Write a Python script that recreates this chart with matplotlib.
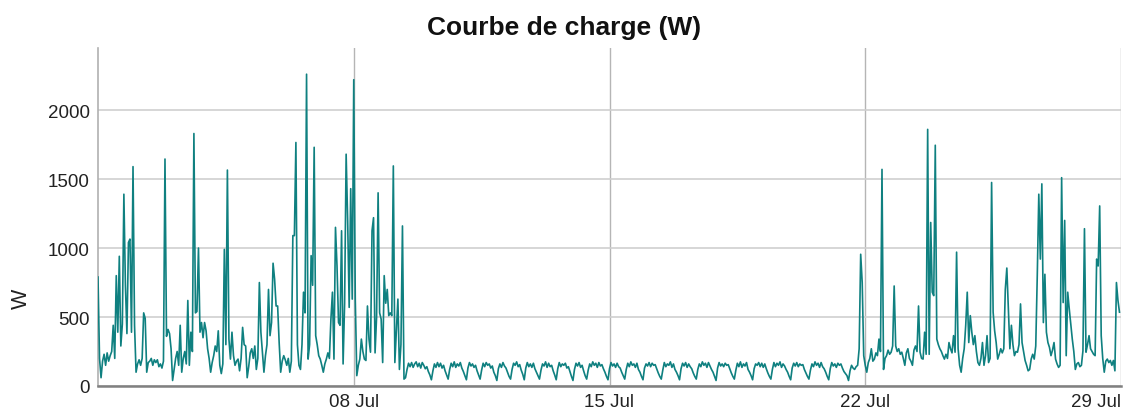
import numpy as np
import pandas as pd
import matplotlib
matplotlib.use("Agg")
import matplotlib.pyplot as plt
import matplotlib.dates as mdates

# ---- data (W) ----
# busy period 1: hourly from 2023-07-01 00:00
start1 = "2023-07-01 00:00"
values1 = [
    790, 200, 60, 180, 230, 150, 240, 180, 220, 250, 440, 200, 800, 390, 940, 290, 450, 1390, 730, 380, 1040, 1065, 390, 1590,
    440, 100, 160, 190, 150, 200, 530, 490, 100, 170, 180, 200, 150, 190, 170, 190, 140, 160, 130, 180, 1645, 360, 410, 380,
    270, 40, 120, 200, 250, 150, 440, 100, 200, 250, 160, 620, 150, 390, 250, 1830, 530, 540, 1000, 390, 460, 350, 460, 400,
    270, 200, 100, 170, 220, 290, 250, 400, 150, 90, 160, 990, 300, 1565, 340, 195, 390, 220, 150, 180, 195, 110, 200, 425,
    300, 290, 60, 140, 240, 270, 200, 290, 120, 200, 750, 390, 250, 100, 220, 300, 700, 365, 460, 890, 775, 580, 580, 315,
    100, 180, 220, 190, 150, 200, 100, 180, 1090, 1090, 1765, 300, 150, 120, 300, 680, 530, 2260, 195, 300, 945, 730, 1730, 365,
    300, 220, 195, 150, 100, 160, 195, 240, 200, 485, 680, 195, 1150, 870, 460, 440, 1125, 160, 600, 1680, 1200, 570, 1430, 630,
    2220, 630, 75, 150, 195, 340, 250, 195, 185, 580, 340, 245, 1125, 1220, 240, 500, 1400, 530, 485, 170, 800, 600, 700, 510,
    530, 510, 1595, 170, 400, 630, 120, 300, 1160, 50,
]

# quiet period: hourly from 2023-07-09 10:00
start2 = "2023-07-09 10:00"
values2 = [
    60, 120, 165, 140, 170, 135, 160, 175, 140, 165, 130, 170, 150, 125, 140, 105, 80, 45,
    110, 160, 135, 170, 140, 165, 130, 150, 110, 80, 50,
    120, 165, 140, 175, 135, 160, 145, 170, 130, 105, 75, 45,
    130, 170, 145, 160, 135, 150, 110, 80, 50,
    115, 165, 140, 170, 150, 160, 130, 145, 100, 75, 40,
    125, 160, 135, 170, 145, 130, 100, 70, 50,
    120, 165, 150, 175, 140, 155, 115, 85, 45,
    130, 170, 140, 160, 135, 165, 125, 100, 75, 50,
    115, 160, 145, 175, 135, 165, 140, 150, 110, 80, 45,
    125, 170, 140, 160, 150, 165, 130, 140, 105, 70, 40,
    120, 165, 145, 170, 135, 150, 110, 75, 50,
    115, 160, 140, 175, 150, 165, 135, 170, 145, 155, 125, 100, 70, 45,
    125, 170, 145, 160, 135, 165, 140, 130, 100, 75, 50,
    120, 165, 140, 175, 150, 160, 135, 165, 120, 100, 70, 45,
    130, 160, 145, 170, 140, 165, 150, 155, 125, 95, 70, 50,
    115, 170, 140, 160, 150, 175, 135, 160, 120, 100, 75, 45,
    125, 165, 145, 170, 135, 160, 140, 125, 95, 70, 50,
    120, 160, 140, 175, 150, 165, 135, 170, 145, 120, 100, 70, 40,
    130, 170, 145, 160, 140, 165, 150, 155, 125, 95, 70, 50,
    115, 165, 140, 175, 135, 160, 145, 170, 120, 100, 75, 45,
    125, 160, 150, 170, 140, 165, 135, 160, 125, 95, 70, 50,
    120, 170, 140, 165, 150, 175, 135, 160, 145, 120, 100, 70, 45,
    130, 165, 145, 170, 140, 160, 150, 155, 120, 95, 70, 50,
    115, 160, 140, 175, 150, 165, 135, 170, 140, 125, 100, 70, 45,
    125, 170, 145, 160, 135, 165, 150, 160, 130, 105, 90, 75, 40,
    110, 150, 130, 120, 140,
]

# busy period 2: hourly from 2023-07-21 19:00
start3 = "2023-07-21 19:00"
values3 = [
    150, 270, 955, 750, 220, 150, 100, 170, 200, 270, 180, 195, 240, 220, 340, 250, 1570, 120, 200, 220,
    260, 230, 245, 290, 725, 290, 250, 270, 230, 245, 200, 150, 240, 270, 200, 180, 150, 260, 290, 250,
    580, 245, 200, 195, 390, 230, 1860, 230, 1185, 680, 655, 1745, 340, 300, 270, 250, 220,
    195, 230, 200, 315, 270, 240, 365, 245, 970, 270, 150, 100, 200, 270, 440, 680, 315, 510, 390, 300,
    365, 250, 170, 150, 200, 315, 150, 220, 365, 170, 200, 1475, 535, 400, 315, 195, 230, 270, 240, 270,
    700, 855, 560, 270, 440, 300, 220, 250, 245, 300, 595, 315, 250, 185, 150, 110, 120, 195, 230, 195,
    290, 800, 1390, 920, 1465, 460, 810, 390, 315, 280, 220, 260, 315, 195, 160, 135, 150, 1510, 605, 1200,
    220, 680, 560, 450, 340, 250, 120, 160, 170, 140, 150, 255, 1140, 245, 300, 365, 270, 250, 230, 220,
    920, 870, 1305, 365, 200, 100, 180, 195, 170, 185, 150, 185, 110, 750, 620, 535,
]

x_ticks = ["2023-07-08", "2023-07-15", "2023-07-22", "2023-07-29"]
y_ticks = [0, 500, 1000, 1500, 2000]

t1 = pd.date_range(start1, periods=len(values1), freq="1h")
t2 = pd.date_range(start2, periods=len(values2), freq="1h")
t3 = pd.date_range(start3, periods=len(values3), freq="1h")
times = t1.append(t2).append(t3)
vals = np.array(values1 + values2 + values3, dtype=float)
order = np.argsort(times.values, kind="stable")
times = times[order]
vals = vals[order]

plt.rcParams['font.family'] = ['Liberation Sans', 'DejaVu Sans']

fig = plt.figure(figsize=(11.29, 4.10), dpi=100)
ax = fig.add_axes([98/1129, 1 - 387/410, (1121 - 98)/1129, (387 - 49)/410])

ax.plot(times, vals, color="#0f8080", linewidth=1.2, zorder=3)

ax.set_xlim(pd.Timestamp("2023-07-01 00:00"), pd.Timestamp("2023-07-29 00:00"))
ax.set_ylim(0, 2450)
ax.set_xticks([pd.Timestamp(t) for t in x_ticks])
ax.xaxis.set_major_formatter(mdates.DateFormatter("%d %b"))
ax.set_yticks(y_ticks)

ax.grid(True, axis="y", color="#cfcfcf", linewidth=1.2, zorder=0)
ax.grid(True, axis="x", color="#b5b5b5", linewidth=1.0, zorder=0)

for s in ["top", "right"]:
    ax.spines[s].set_visible(False)
ax.spines["left"].set_color("#b0b0b0")
ax.spines["left"].set_linewidth(1.2)
ax.spines["bottom"].set_color("#808080")
ax.spines["bottom"].set_linewidth(1.8)

ax.tick_params(axis="both", length=0, labelsize=13.5, colors="#222222")
ax.tick_params(axis="y", pad=6)
ax.tick_params(axis="x", pad=5)

fig.canvas.draw()
xlabels = ax.get_xticklabels()
xlabels[-1].set_horizontalalignment("right")

ax.set_ylabel("W", fontsize=15.5, color="#222222")
ax.yaxis.set_label_coords(-0.065, 0.26)

fig.text(0.5, 1 - 28/410, "Courbe de charge (W)", fontsize=19, fontweight="bold",
         ha="center", va="center", color="#111111")

fig.savefig("out.png", dpi=100)
